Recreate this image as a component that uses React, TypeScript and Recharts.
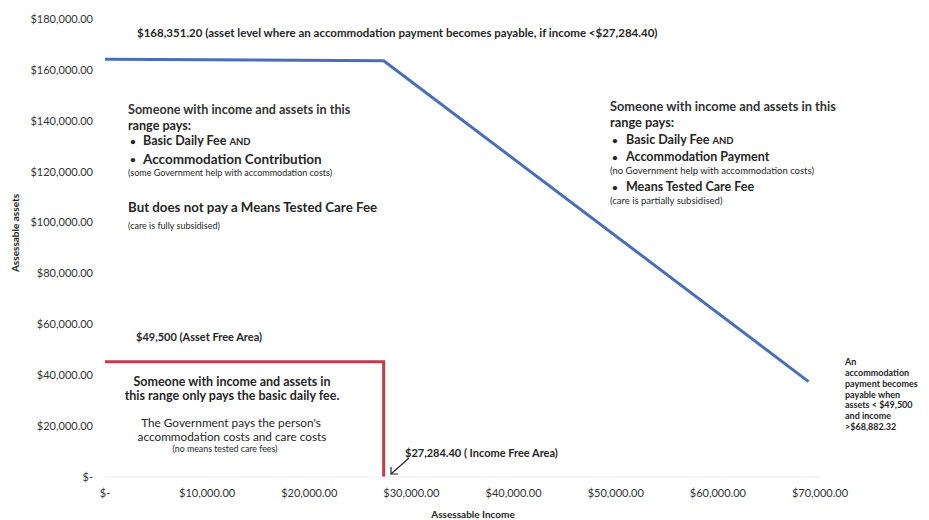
import React from 'react'
import { LineChart, Line, XAxis, YAxis } from 'recharts'

// blue line: asset level where an accommodation payment becomes payable
const blueIncome = [0, 27284.4, 68882.32]
const blueAssets = [164200, 163600, 37500]

// red line: asset free area / income free area
const redIncome = [0, 27284.4, 27284.4]
const redAssets = [45300, 45300, 0]

const xTicks = [0, 10000, 20000, 30000, 40000, 50000, 60000, 70000]
const yTicks = [0, 20000, 40000, 60000, 80000, 100000, 120000, 140000, 160000, 180000]

const blueData = blueIncome.map((x, i) => ({ income: x, assets: blueAssets[i] }))
const redData = redIncome.map((x, i) => ({ income: x, assets: redAssets[i] }))

const money = (v: number) =>
  v === 0 ? '$-' : '$' + v.toLocaleString('en-US', { minimumFractionDigits: 2, maximumFractionDigits: 2 })

const FONT = 'Lato, "Open Sans", sans-serif'
const INK = '#262626'

interface NoteProps {
  x: number
  y: number
  size?: number
  bold?: boolean
  center?: boolean
  color?: string
  children: React.ReactNode
}

// y is the vertical centre of the line
function Note({ x, y, size = 12, bold = true, center = false, color = INK, children }: NoteProps) {
  const lh = size * 1.05
  return (
    <div
      style={{
        position: 'absolute',
        left: x,
        top: y - lh / 2,
        lineHeight: `${lh}px`,
        fontSize: size,
        fontWeight: bold ? 700 : 400,
        color,
        whiteSpace: 'nowrap',
        transform: center ? 'translateX(-50%)' : undefined,
      }}
    >
      {children}
    </div>
  )
}

function Bullet({ x, y, textX, size = 12.5, children }: { x: number; y: number; textX: number; size?: number; children: React.ReactNode }) {
  return (
    <>
      <Note x={x} y={y} size={10}>•</Note>
      <Note x={textX} y={y} size={size}>{children}</Note>
    </>
  )
}

const rightNote = ['An', 'accommodation', 'payment becomes', 'payable when', 'assets < $49,500', 'and income', '>$68,882.32']

export default function App() {
  return (
    <div style={{ position: 'relative', width: 929, height: 520, fontFamily: FONT, background: '#fff', overflow: 'hidden' }}>
      <style>{`body{margin:0}`}</style>
      <LineChart width={929} height={520} data={blueData} margin={{ top: 19, right: 109, bottom: 0, left: 0 }}>
        <XAxis
          dataKey="income"
          type="number"
          domain={[0, 70000]}
          ticks={xTicks}
          tickFormatter={money}
          height={43}
          tickSize={0}
          tickMargin={12}
          axisLine={{ stroke: '#ececec' }}
          tick={{ fontSize: 11, fill: '#333', fontFamily: FONT }}
        />
        <YAxis
          dataKey="assets"
          type="number"
          domain={[0, 180000]}
          ticks={yTicks}
          tickFormatter={money}
          width={105}
          tickSize={0}
          tickMargin={12}
          axisLine={false}
          tick={{ fontSize: 11, fill: '#333', fontFamily: FONT }}
        />
        <Line data={blueData} dataKey="assets" type="linear" stroke="#4a6fb8" strokeWidth={3} dot={false} isAnimationActive={false} />
        <Line data={redData} dataKey="assets" type="linear" stroke="#c23a4c" strokeWidth={3} dot={false} isAnimationActive={false} />
      </LineChart>

      <Note x={137} y={33} size={11.5}>
        $168,351.20 (asset level where an accommodation payment becomes payable, if income &lt;$27,284.40)
      </Note>

      {/* left upper block */}
      <Note x={128} y={109.5} size={12.6} color="#333">Someone with income and assets in this</Note>
      <Note x={128} y={125.5} size={12.6}>range pays:</Note>
      <Bullet x={130} y={141} textX={143}>Basic Daily Fee <span style={{ fontSize: 9.5 }}>AND</span></Bullet>
      <Bullet x={130} y={159} textX={143} size={13.5}>Accommodation Contribution</Bullet>
      <Note x={128} y={173} size={9} bold={false}>(some Government help with accommodation costs)</Note>
      <Note x={128} y={208} size={13.3}>But does not pay a Means Tested Care Fee</Note>
      <Note x={128} y={226} size={9} bold={false}>(care is fully subsidised)</Note>

      {/* right upper block */}
      <Note x={610} y={107} size={12.8} color="#333">Someone with income and assets in this</Note>
      <Note x={610} y={123} size={12.8}>range pays:</Note>
      <Bullet x={612} y={140} textX={626}>Basic Daily Fee <span style={{ fontSize: 9.5 }}>AND</span></Bullet>
      <Bullet x={612} y={157} textX={626}>Accommodation Payment</Bullet>
      <Note x={610} y={171} size={9.5} bold={false}>(no Government help with accommodation costs)</Note>
      <Bullet x={612} y={187} textX={626}>Means Tested Care Fee</Bullet>
      <Note x={610} y={201} size={9.5} bold={false}>(care is partially subsidised)</Note>

      {/* asset free area */}
      <Note x={136} y={337} size={11}>$49,500 (Asset Free Area)</Note>
      <Note x={232} y={382} size={12.5} center>Someone with income and assets in</Note>
      <Note x={232} y={396} size={12.5} center>this range only pays the basic daily fee.</Note>
      <Note x={231} y={423} size={11.8} bold={false} center>The Government pays the person's</Note>
      <Note x={232} y={437} size={11.8} bold={false} center>accommodation costs and care costs</Note>
      <Note x={225} y={449} size={8.8} bold={false} center>(no means tested care fees)</Note>

      <Note x={405} y={453} size={11}>$27,284.40 ( Income Free Area)</Note>
      <svg width={929} height={520} style={{ position: 'absolute', left: 0, top: 0, pointerEvents: 'none' }}>
        <line x1={409} y1={458} x2={391} y2={474} stroke="#222" strokeWidth={1.2} />
        <polyline points="391,467 391,474 398,474" fill="none" stroke="#222" strokeWidth={1.2} />
      </svg>

      {rightNote.map((t, i) => (
        <Note key={t} x={845} y={362 + i * 10.8} size={9}>{t}</Note>
      ))}

      {/* axis titles */}
      <div
        style={{
          position: 'absolute',
          left: 15,
          top: 233,
          transform: 'translate(-50%, -50%) rotate(-90deg)',
          fontSize: 10,
          fontWeight: 700,
          color: INK,
          whiteSpace: 'nowrap',
        }}
      >
        Assessable assets
      </div>
      <Note x={473} y={514} size={10} center>Assessable Income</Note>
    </div>
  )
}
